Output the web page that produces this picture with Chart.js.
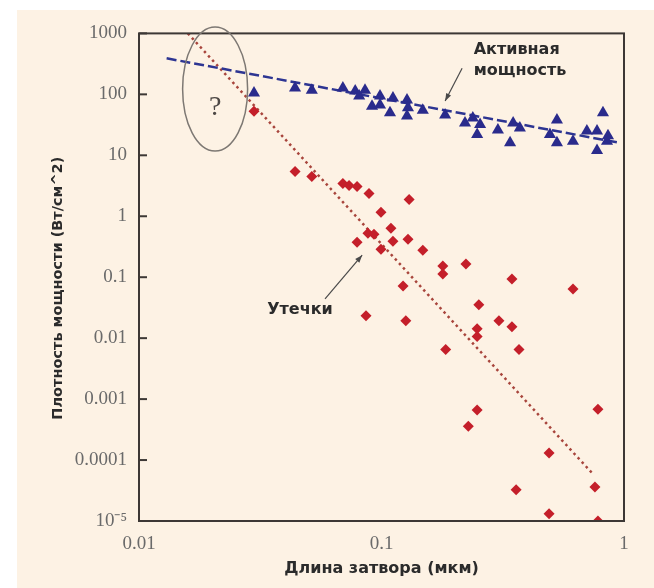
<!DOCTYPE html>
<html>
<head>
<meta charset="utf-8">
<script src="https://cdn.jsdelivr.net/npm/chart.js@4.4.1/dist/chart.umd.min.js"></script>
<style>
  html, body { margin: 0; padding: 0; background: #ffffff; }
  #box { position: absolute; left: 17px; top: 10px; width: 637px; height: 578px; background: #fdf2e4; }
</style>
</head>
<body>
<div id="box"><canvas id="powerChart" width="637" height="578"></canvas></div>
<script>
// Активная мощность (triangles)
var activeX = [0.0298, 0.044, 0.0516, 0.0693, 0.0779, 0.0855, 0.0809, 0.0986, 0.1115, 0.1274,
               0.0914, 0.0986, 0.1084, 0.1286, 0.1274, 0.148, 0.183, 0.221, 0.238, 0.248,
               0.255, 0.302, 0.349, 0.372, 0.339, 0.529, 0.495, 0.529, 0.616, 0.703,
               0.774, 0.819, 0.851, 0.774, 0.859];
var activeY = [105, 127, 117, 127, 113, 117, 94, 94, 87, 81,
               64, 67, 50, 60, 44, 55, 46, 34, 41, 22,
               32, 26, 34, 28, 16, 38, 22, 16, 17, 25,
               25, 50, 17, 12, 21];

// Утечки (diamonds)
var leakX = [0.0298, 0.044, 0.0516, 0.0693, 0.0735, 0.0793, 0.0888, 0.130, 0.0995, 0.1094,
             0.0879, 0.0931, 0.0793, 0.1115, 0.1286, 0.0995, 0.148, 0.1227, 0.0863, 0.126,
             0.179, 0.179, 0.223, 0.345, 0.616, 0.252, 0.305, 0.345, 0.248, 0.248,
             0.184, 0.369, 0.248, 0.228, 0.781, 0.491, 0.759, 0.359, 0.491, 0.781];
var leakY = [53, 5.4, 4.5, 3.44, 3.2, 3.07, 2.37, 1.89, 1.16, 0.635,
             0.526, 0.507, 0.375, 0.39, 0.42, 0.288, 0.278, 0.0718, 0.0233, 0.0193,
             0.152, 0.113, 0.164, 0.0935, 0.0643, 0.0352, 0.0193, 0.0154, 0.0143, 0.0106,
             0.0065, 0.0065, 0.00066, 0.00036, 0.00068, 0.00013, 3.6e-5, 3.25e-5, 1.32e-5, 1.0e-5];

// trend lines
var activeFitX = [0.013, 0.96];
var activeFitY = [390, 16];
var leakFitX = [0.0159, 0.745];
var leakFitY = [1000, 5.9e-5];

var xTicks = [0.01, 0.1, 1];
var yTicks = [1e-5, 1e-4, 1e-3, 1e-2, 0.1, 1, 10, 100, 1000];
var yTickLabels = ['10\u207B\u2075', '0.0001', '0.001', '0.01', '0.1', '1', '10', '100', '1000'];
var xTickLabels = ['0.01', '0.1', '1'];

function pts(xs, ys) {
  return xs.map(function(x, i) { return {x: x, y: ys[i]}; });
}

function arrow(ctx, x1, y1, x2, y2) {
  var a = Math.atan2(y2 - y1, x2 - x1);
  ctx.beginPath();
  ctx.moveTo(x1, y1);
  ctx.lineTo(x2, y2);
  ctx.stroke();
  ctx.beginPath();
  ctx.moveTo(x2, y2);
  ctx.lineTo(x2 - 8 * Math.cos(a - 0.35), y2 - 8 * Math.sin(a - 0.35));
  ctx.lineTo(x2 - 8 * Math.cos(a + 0.35), y2 - 8 * Math.sin(a + 0.35));
  ctx.closePath();
  ctx.fill();
}

var decor = {
  id: 'decor',
  afterDatasetsDraw: function(chart) {
    var ctx = chart.ctx, a = chart.chartArea;
    var sx = chart.scales.x, sy = chart.scales.y;
    function px(v) { return sx.getPixelForValue(v); }
    function py(v) { return sy.getPixelForValue(v); }
    ctx.save();
    // frame
    ctx.strokeStyle = '#3d3835';
    ctx.lineWidth = 2;
    ctx.strokeRect(a.left, a.top, a.right - a.left, a.bottom - a.top);
    // inward ticks on y axis
    yTicks.forEach(function(v) {
      ctx.beginPath();
      ctx.moveTo(a.left, py(v));
      ctx.lineTo(a.left + 8, py(v));
      ctx.stroke();
    });
    // ellipse with question mark
    ctx.strokeStyle = '#7d7873';
    ctx.lineWidth = 1.5;
    ctx.beginPath();
    ctx.ellipse(px(0.0206), py(122), 32.5, 62, 0, 0, Math.PI * 2);
    ctx.stroke();
    ctx.fillStyle = '#4d4845';
    ctx.font = '28px "Liberation Serif"';
    ctx.textAlign = 'center';
    ctx.textBaseline = 'middle';
    ctx.fillText('?', px(0.0206), py(60));
    // y axis title, a little below the middle as in the original
    ctx.fillStyle = '#2b2b2b';
    ctx.font = 'bold 14.5px "DejaVu Sans"';
    ctx.translate(41, (a.top + a.bottom) / 2 + 11);
    ctx.rotate(-Math.PI / 2);
    ctx.fillText('Плотность мощности (Вт/см^2)', 0, 0);
    ctx.setTransform(1, 0, 0, 1, 0, 0);
    // callouts
    ctx.font = 'bold 16px "DejaVu Sans"';
    ctx.textAlign = 'left';
    ctx.fillText('Активная', px(0.24), py(528));
    ctx.fillText('мощность', px(0.24), py(240));
    ctx.textAlign = 'center';
    ctx.fillText('Утечки', px(0.0461), py(0.0292));
    ctx.strokeStyle = '#4a4a4a';
    ctx.fillStyle = '#4a4a4a';
    ctx.lineWidth = 1.2;
    arrow(ctx, px(0.215), py(268), px(0.183), py(78));
    arrow(ctx, px(0.0585), py(0.044), px(0.0832), py(0.23));
    ctx.restore();
  }
};

var ctx = document.getElementById('powerChart').getContext('2d');
var myChart = new Chart(ctx, {
  type: 'scatter',
  data: {
    datasets: [
      {
        label: 'Активная мощность',
        data: pts(activeX, activeY),
        pointStyle: 'triangle',
        pointRadius: 7,
        backgroundColor: '#2a2b8c',
        borderColor: '#2a2b8c',
        borderWidth: 0,
        clip: 0
      },
      {
        label: 'Утечки',
        data: pts(leakX, leakY),
        pointStyle: 'rectRot',
        pointRadius: 5.5,
        backgroundColor: '#c41f2a',
        borderColor: '#c41f2a',
        borderWidth: 0,
        clip: 0
      },
      {
        data: pts(activeFitX, activeFitY),
        showLine: true,
        pointRadius: 0,
        borderColor: '#2d3592',
        borderWidth: 2.5,
        borderDash: [10, 4],
        clip: 0
      },
      {
        data: pts(leakFitX, leakFitY),
        showLine: true,
        pointRadius: 0,
        borderColor: '#a8453c',
        borderWidth: 2.5,
        borderDash: [2.5, 3.5],
        clip: 0
      }
    ]
  },
  options: {
    responsive: false,
    animation: false,
    layout: { padding: { left: 0, top: 20, right: 30, bottom: 0 } },
    plugins: {
      legend: { display: false },
      tooltip: { enabled: false }
    },
    scales: {
      x: {
        type: 'logarithmic',
        min: 0.01,
        max: 1,
        afterBuildTicks: function(s) { s.ticks = xTicks.map(function(v) { return {value: v}; }); },
        afterFit: function(s) { s.height = 67; },
        grid: { display: false, drawTicks: false },
        border: { display: false },
        ticks: {
          padding: 12,
          color: '#6a6a6a',
          font: { family: '"Liberation Serif"', size: 19 },
          maxRotation: 0,
          callback: function(v, i) { return xTickLabels[i]; }
        },
        title: {
          display: true,
          text: 'Длина затвора (мкм)',
          color: '#2b2b2b',
          font: { family: '"DejaVu Sans"', size: 16, weight: 'bold' },
          padding: { top: 0, bottom: 10 }
        }
      },
      y: {
        type: 'logarithmic',
        min: 1e-5,
        max: 1000,
        afterBuildTicks: function(s) { s.ticks = yTicks.map(function(v) { return {value: v}; }); },
        afterFit: function(s) { s.width = 122; },
        grid: { display: false, drawTicks: false },
        border: { display: false },
        ticks: {
          padding: 12,
          color: '#6a6a6a',
          font: { family: '"Liberation Serif"', size: 19 },
          callback: function(v, i) { return yTickLabels[i]; }
        }
      }
    }
  },
  plugins: [decor]
});
</script>
</body>
</html>
